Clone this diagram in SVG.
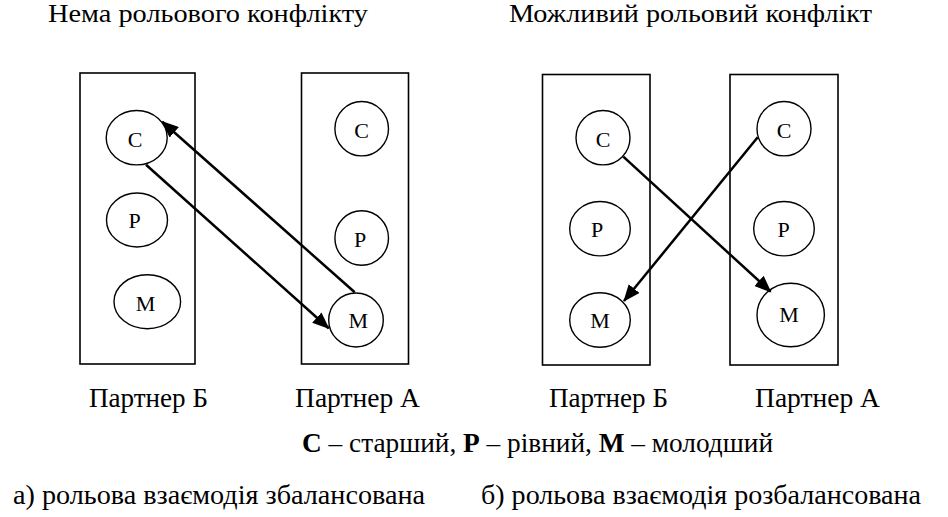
<svg xmlns="http://www.w3.org/2000/svg" width="948" height="517" viewBox="0 0 948 517">
<style>
.box{fill:none;stroke:#000;stroke-width:1.6}
.nd{fill:#fff;stroke:#000;stroke-width:1.4}
.lt{font-size:22px;fill:#000;text-anchor:middle}
.tx{font-size:27px;fill:#000}
.b{font-weight:bold}
.cn{stroke:#000;stroke-width:2.5;fill:none}
</style>
<defs>
<marker id="ah" markerUnits="userSpaceOnUse" markerWidth="18" markerHeight="14" viewBox="0 0 18 14" refX="16" refY="7" orient="auto">
<path d="M0,0 L17,7 L0,14 z" fill="#000"/>
</marker>
</defs>
<rect width="948" height="517" fill="#fff"/>
<g font-family="'Liberation Serif', 'DejaVu Serif', serif">
<text class="tx" x="48" y="22" textLength="320" lengthAdjust="spacingAndGlyphs" style="font-size:26px">Нема рольового конфлікту</text>
<text class="tx" x="509" y="22" textLength="363" lengthAdjust="spacingAndGlyphs" style="font-size:26px">Можливий рольовий конфлікт</text>

<g id="boxA-B"><rect class="box" x="80" y="73" width="115" height="291"/></g>
<g id="boxA-A"><rect class="box" x="301.5" y="73" width="107" height="291"/></g>
<g id="boxB-B"><rect class="box" x="542.5" y="74.5" width="107.5" height="290.5"/></g>
<g id="boxB-A"><rect class="box" x="730" y="74.5" width="108" height="290.5"/></g>

<g id="a-B-C"><ellipse class="nd" cx="136.7" cy="137.7" rx="30.5" ry="27.2"/><text class="lt" x="135" y="146.5">С</text></g>
<g id="a-B-P"><ellipse class="nd" cx="137" cy="220" rx="30.5" ry="27"/><text class="lt" x="134.5" y="228">Р</text></g>
<g id="a-B-M"><ellipse class="nd" cx="147.3" cy="301.7" rx="33.3" ry="27"/><text class="lt" x="145.5" y="310.5">М</text></g>
<g id="a-A-C"><ellipse class="nd" cx="361.7" cy="128.7" rx="26.8" ry="27.2"/><text class="lt" x="361.7" y="138">С</text></g>
<g id="a-A-P"><ellipse class="nd" cx="361.7" cy="238" rx="26.8" ry="27.3"/><text class="lt" x="360" y="246.5">Р</text></g>
<g id="a-A-M"><ellipse class="nd" cx="356" cy="320" rx="27.3" ry="27"/><text class="lt" x="358.3" y="328">М</text></g>

<g id="b-B-C"><ellipse class="nd" cx="603" cy="137.7" rx="27" ry="27.2"/><text class="lt" x="603" y="147">С</text></g>
<g id="b-B-P"><ellipse class="nd" cx="600" cy="228.7" rx="30.3" ry="27.2"/><text class="lt" x="597" y="237">Р</text></g>
<g id="b-B-M"><ellipse class="nd" cx="600" cy="320" rx="30.3" ry="27.2"/><text class="lt" x="600" y="328">М</text></g>
<g id="b-A-C"><ellipse class="nd" cx="784" cy="128.7" rx="27" ry="27.2"/><text class="lt" x="784" y="138">С</text></g>
<g id="b-A-P"><ellipse class="nd" cx="784" cy="228.7" rx="30.3" ry="27.2"/><text class="lt" x="783.5" y="237">Р</text></g>
<g id="b-A-M"><ellipse class="nd" cx="790.7" cy="315" rx="33.7" ry="31.8"/><text class="lt" x="789" y="321.7">М</text></g>

<g id="connectors">
<line class="cn" x1="354.7" y1="292.3" x2="162.3" y2="121.7" marker-end="url(#ah)"/>
<line class="cn" x1="146" y1="164.7" x2="328.7" y2="328.3" marker-end="url(#ah)"/>
<line class="cn" x1="623.3" y1="156.7" x2="770.7" y2="291.7" marker-end="url(#ah)"/>
<line class="cn" x1="757.7" y1="137.3" x2="624" y2="301" marker-end="url(#ah)"/>
</g>

<text class="tx" x="89" y="407" textLength="119" lengthAdjust="spacingAndGlyphs">Партнер Б</text>
<text class="tx" x="295" y="407" textLength="125" lengthAdjust="spacingAndGlyphs">Партнер А</text>
<text class="tx" x="549" y="407" textLength="119" lengthAdjust="spacingAndGlyphs">Партнер Б</text>
<text class="tx" x="755" y="407" textLength="125" lengthAdjust="spacingAndGlyphs">Партнер А</text>

<text class="tx" x="302" y="452" textLength="471" lengthAdjust="spacingAndGlyphs"><tspan class="b">С</tspan> – старший, <tspan class="b">Р</tspan> – рівний, <tspan class="b">М</tspan> – молодший</text>

<text class="tx" x="13" y="504" textLength="412" lengthAdjust="spacingAndGlyphs">а) рольова взаємодія збалансована</text>
<text class="tx" x="481" y="504" textLength="440" lengthAdjust="spacingAndGlyphs">б) рольова взаємодія розбалансована</text>
</g>
</svg>
